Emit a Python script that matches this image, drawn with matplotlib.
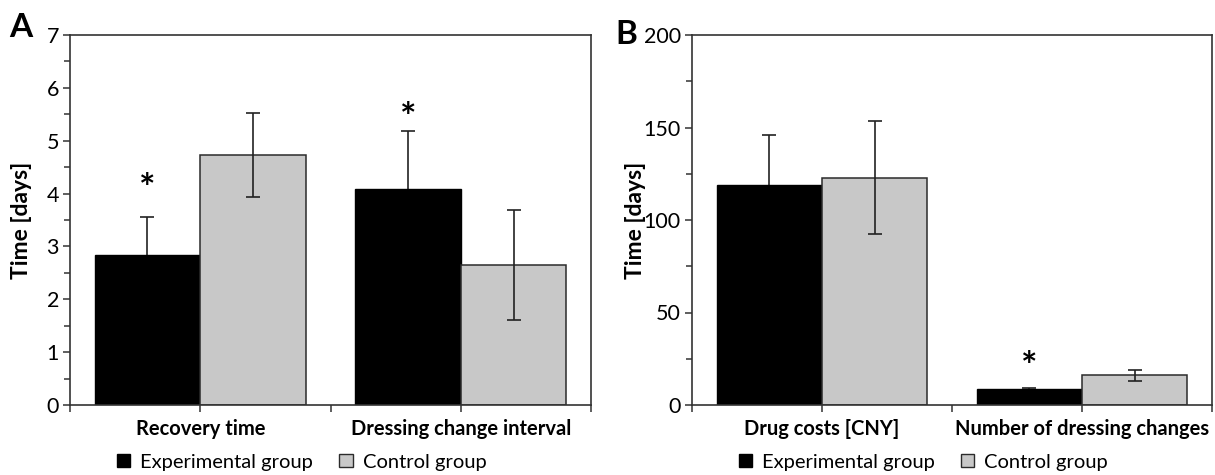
import matplotlib
matplotlib.use("Agg")
import matplotlib.pyplot as plt
from matplotlib.patches import Patch
import matplotlib.transforms as mtransforms
import numpy as np

plt.rcParams['font.family'] = ['Lato', 'DejaVu Sans']

# Panel A data
cats_a = ['Recovery time', 'Dressing change interval']
exp_a = [2.84, 4.08]
exp_a_err = [0.72, 1.11]
ctrl_a = [4.73, 2.65]
ctrl_a_err = [0.79, 1.04]
star_a = [4.33, 5.66]

# Panel B data
cats_b = ['Drug costs [CNY]', 'Number of dressing changes']
exp_b = [118.7, 8.5]
exp_b_err = [27.0, 0.6]
ctrl_b = [122.9, 16.0]
ctrl_b_err = [30.5, 3.0]
star_b = [None, 27.4]

labels = ['Experimental group', 'Control group']
exp_color = '#000000'
ctrl_color = '#c8c8c8'
edge = '#2b2b2b'

fig = plt.figure(figsize=(12.15, 4.75), dpi=100)
axA = fig.add_axes([70 / 1215, 1 - 405 / 475, 521 / 1215, 370 / 475])
axB = fig.add_axes([692 / 1215, 1 - 405 / 475, 520 / 1215, 370 / 475])


def draw(ax, cats, exp, exp_err, ctrl, ctrl_err, stars, ymax, major, minor, letter, label_shift):
    x = np.arange(len(cats))
    w = 0.405
    ax.bar(x - w / 2, exp, w, color=exp_color, edgecolor=exp_color, linewidth=1, zorder=2)
    ax.bar(x + w / 2, ctrl, w, color=ctrl_color, edgecolor=edge, linewidth=1.1, zorder=2)
    # experimental bars sit on top of their error bars, so only the upper half shows
    ax.errorbar(x - w / 2, exp, yerr=exp_err, fmt='none', ecolor='#222222',
                elinewidth=1.2, capsize=5, capthick=1.2, zorder=1)
    ax.errorbar(x + w / 2, ctrl, yerr=ctrl_err, fmt='none', ecolor='#222222',
                elinewidth=1.2, capsize=5, capthick=1.2, zorder=3)
    star_off = mtransforms.ScaledTranslation(0, -0.13, fig.dpi_scale_trans)
    for xi, s in zip(x, stars):
        if s is not None:
            ax.text(xi - w / 2, s, '*', ha='center', va='center', fontsize=28,
                    fontweight='bold', transform=ax.transData + star_off)

    ax.set_xlim(-0.5, len(cats) - 0.5)
    ax.set_ylim(0, ymax)
    ax.set_xticks([-0.5, 0, 0.5, 1, 1.5])
    ax.set_xticklabels(['', cats[0], '', cats[1], ''], fontsize=14.5, fontweight='bold')
    for lab, dx in zip([ax.get_xticklabels()[1], ax.get_xticklabels()[3]], label_shift):
        lab.set_transform(lab.get_transform() +
                          mtransforms.ScaledTranslation(dx / 100, 0, fig.dpi_scale_trans))
    ax.set_yticks(np.arange(0, ymax + 0.001, major))
    ax.set_yticks(np.arange(0, ymax + 0.001, minor), minor=True)
    ax.tick_params(axis='y', which='major', direction='out', length=5, width=1.1,
                   labelsize=15.5, pad=3, color='#333333')
    ax.tick_params(axis='y', which='minor', direction='out', length=4, width=1.1,
                   color='#333333')
    ax.tick_params(axis='x', direction='out', length=5, width=1.1, pad=5, color='#333333')
    for sp in ax.spines.values():
        sp.set_linewidth(1.2)
        sp.set_color('#333333')

    ax.set_ylabel('Time [days]', fontsize=16.5, fontweight='bold')
    ax.text(-0.1, 1.0, letter, transform=ax.transAxes, fontsize=24,
            fontweight='bold', ha='center', va='center')

    handles = [Patch(facecolor=exp_color, edgecolor=exp_color),
               Patch(facecolor=ctrl_color, edgecolor=edge, linewidth=1)]
    ax.legend(handles, labels, loc='center', bbox_to_anchor=(0.445, -0.155), ncol=2,
              frameon=False, fontsize=14.5, handlelength=0.65, handleheight=0.65,
              handletextpad=0.5, columnspacing=1.3)


draw(axA, cats_a, exp_a, exp_a_err, ctrl_a, ctrl_a_err, star_a, 7, 1, 0.5, 'A', (-22, 16))
draw(axB, cats_b, exp_b, exp_b_err, ctrl_b, ctrl_b_err, star_b, 200, 50, 25, 'B', (0, 0))
axA.yaxis.set_label_coords(-0.073, 0.5)
axB.yaxis.set_label_coords(-0.088, 0.5)
axA.texts[-1].set_position((-0.095, 1.02))
axB.texts[-1].set_position((-0.127, 1.0))

fig.savefig('out.png', dpi=100)
